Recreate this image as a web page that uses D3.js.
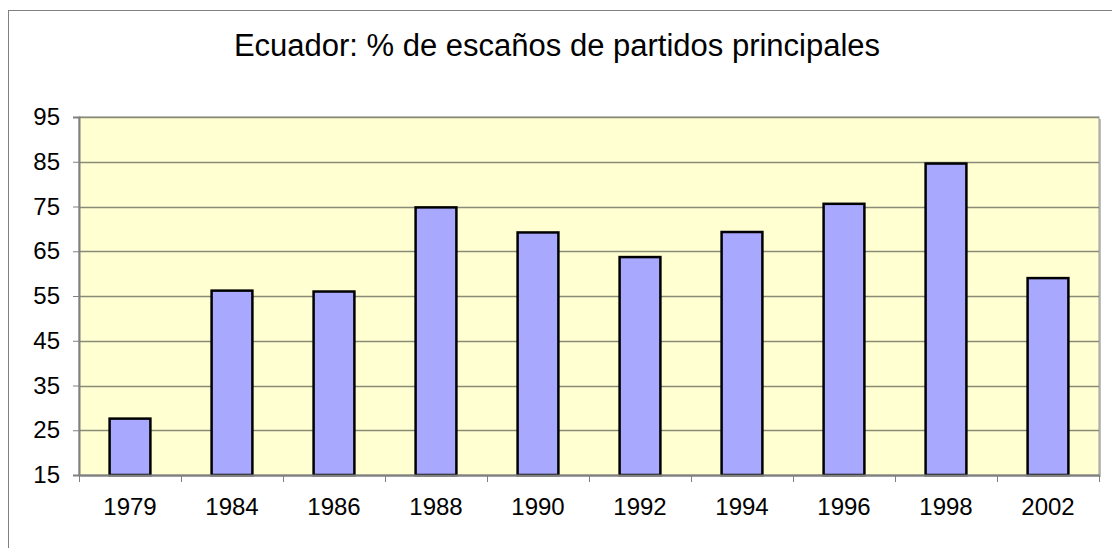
<!DOCTYPE html>
<html>
<head>
<meta charset="utf-8">
<script src="https://cdn.jsdelivr.net/npm/d3@7"></script>
<style>
  body { margin: 0; background: #fff; }
  svg { display: block; font-family: "Liberation Sans", Arial, sans-serif; }
</style>
</head>
<body>
<svg id="chart" width="1112" height="548"></svg>
<script>
// chart data
const years = ["1979", "1984", "1986", "1988", "1990", "1992", "1994", "1996", "1998", "2002"];
const seatShare = [27.6, 56.2, 56.0, 74.8, 69.2, 63.7, 69.3, 75.6, 84.6, 59.0];
const yTicks = [15, 25, 35, 45, 55, 65, 75, 85, 95];
const title = "Ecuador: % de escaños de partidos principales";

const svg = d3.select("#chart");
const margin = { left: 79, right: 13, top: 117, bottom: 73 };
const width = +svg.attr("width"), height = +svg.attr("height");
const plotW = width - margin.left - margin.right;
const plotH = height - margin.top - margin.bottom;

// outer chart frame
svg.append("rect")
  .attr("x", 8.5).attr("y", 10.5)
  .attr("width", 1120).attr("height", 560)
  .attr("fill", "#fff").attr("stroke", "#808080").attr("stroke-width", 1);

svg.append("text")
  .attr("x", 557).attr("y", 56)
  .attr("text-anchor", "middle")
  .style("font-size", "31px")
  .attr("fill", "#000")
  .text(title);

const x = d3.scaleBand().domain(years).range([0, plotW]).paddingInner(0.6).paddingOuter(0.3);
const xb = d3.scaleBand().domain(years).range([0, plotW]);
const y = d3.scaleLinear().domain([15, 95]).range([plotH, 0]);

const g = svg.append("g").attr("transform", `translate(${margin.left},${margin.top})`);

// plot shadow + background
g.append("rect")
  .attr("x", 2).attr("y", 2).attr("width", plotW).attr("height", plotH)
  .attr("fill", "#c0c0c0");
g.append("rect")
  .attr("width", plotW).attr("height", plotH)
  .attr("fill", "#ffffd2").attr("stroke", "#9a9a9a").attr("stroke-width", 1);

// gridlines
g.selectAll("line.grid")
  .data(yTicks.slice(1))
  .enter().append("line")
  .attr("class", "grid")
  .attr("x1", 0).attr("x2", plotW)
  .attr("y1", d => Math.round(y(d)) + 0.5).attr("y2", d => Math.round(y(d)) + 0.5)
  .attr("stroke", "#8a8a78").attr("stroke-width", 1.5);

// bars
g.selectAll("rect.bar")
  .data(seatShare)
  .enter().append("rect")
  .attr("class", "bar")
  .attr("x", (d, i) => x(years[i]))
  .attr("width", x.bandwidth())
  .attr("y", d => y(d))
  .attr("height", d => plotH - y(d))
  .attr("fill", "#a8a8ff")
  .attr("stroke", "#000").attr("stroke-width", 2.5);

// y axis
const yAxis = d3.axisLeft(y).tickValues(yTicks).tickSize(6).tickPadding(13);
const gy = g.append("g").call(yAxis);
gy.select(".domain").attr("stroke", "#808080").attr("stroke-width", 2);
gy.selectAll(".tick line").attr("stroke", "#808080");
gy.selectAll("text").style("font-size", "24px").attr("fill", "#000")
  .style("font-family", "Liberation Sans, Arial, sans-serif");

// x axis: ticks between categories
const xAxis = d3.axisBottom(xb).tickSize(0).tickPadding(23);
const gx = g.append("g").attr("transform", `translate(0,${plotH})`).call(xAxis);
gx.select(".domain").attr("stroke", "#808080").attr("stroke-width", 2);
gx.selectAll("text").style("font-size", "24px").attr("fill", "#000")
  .style("font-family", "Liberation Sans, Arial, sans-serif");
gx.selectAll("line.sep")
  .data(years.slice(1).concat(["end"]))
  .enter().append("line")
  .attr("class", "sep")
  .attr("x1", (d, i) => Math.round(xb.step() * (i + 1)) + 0.5)
  .attr("x2", (d, i) => Math.round(xb.step() * (i + 1)) + 0.5)
  .attr("y1", 0).attr("y2", 7)
  .attr("stroke", "#808080");
gx.append("line").attr("x1", 0.5).attr("x2", 0.5).attr("y1", 0).attr("y2", 7).attr("stroke", "#808080");
</script>
</body>
</html>
